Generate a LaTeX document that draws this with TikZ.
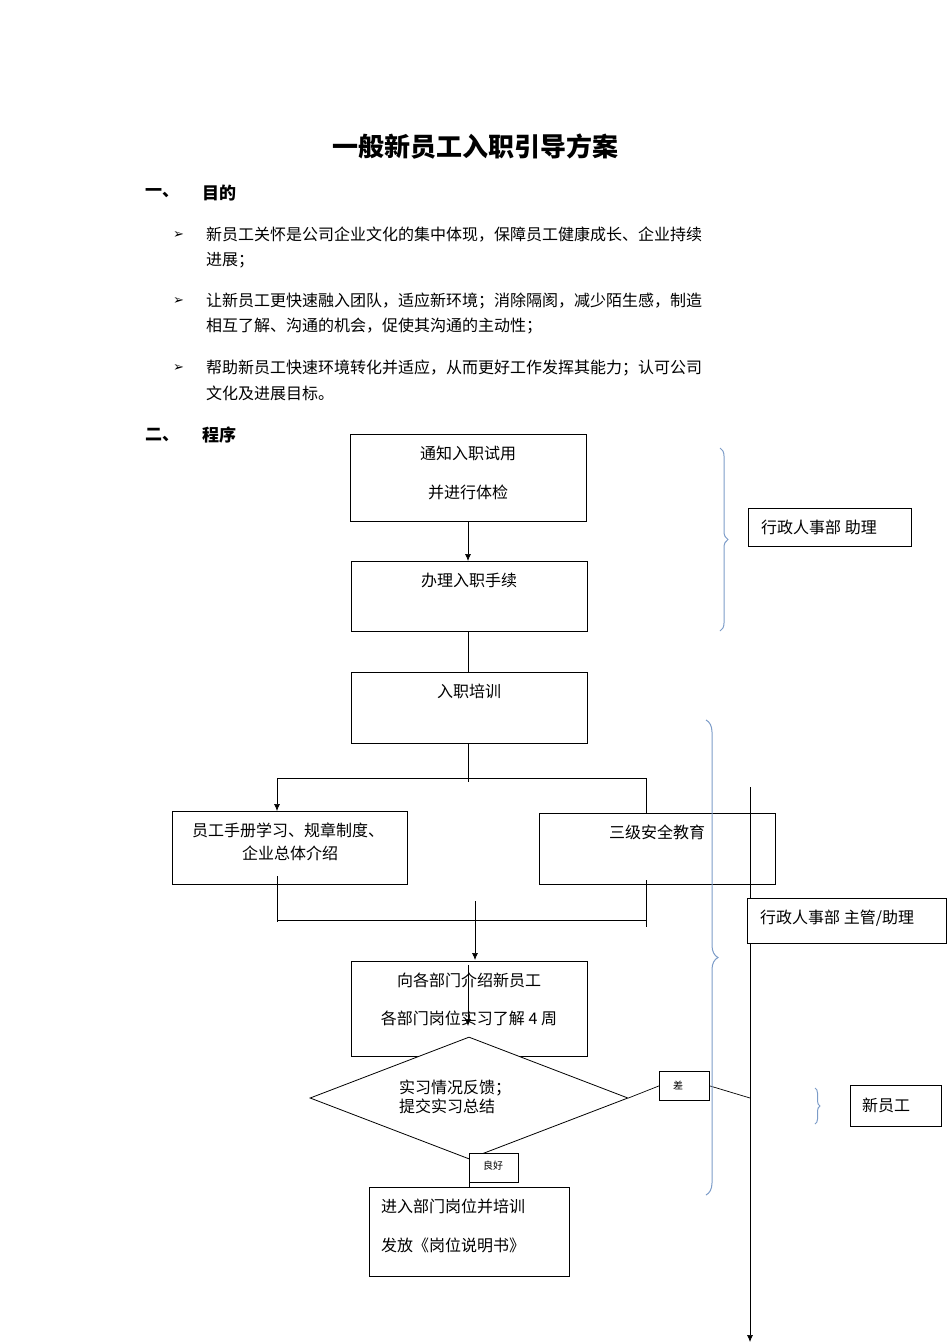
\documentclass[tikz,border=0pt]{standalone}
\usepackage{fontspec}
\setmainfont{Noto Sans CJK SC}
\newfontfamily\djv{DejaVu Sans}
\usetikzlibrary{shapes.geometric,decorations.pathreplacing,arrows.meta}
\definecolor{bblue}{HTML}{7C9CC8}
\begin{document}
\begin{tikzpicture}[x=1pt,y=-1pt,
 box/.style={draw,line width=0.8pt,inner sep=0pt},
 t/.style={font=\fontsize{16}{19}\selectfont,inner sep=0pt},
 s/.style={font=\fontsize{10}{12}\selectfont,inner sep=0pt},
 arr/.style={-{Latex[length=7pt,width=6pt]},line width=0.7pt},
 ln/.style={line width=0.7pt},
 br/.style={draw=bblue,line width=1pt,decorate,decoration={brace,amplitude=8pt}}]
\useasboundingbox (0,0) rectangle (950,1344);
\node[font=\fontsize{26}{30}\selectfont\bfseries,inner sep=0pt] (title) at (475,147) {一般新员工入职引导方案};
\node[t,font=\fontsize{17}{20}\selectfont\bfseries,anchor=west] (h1) at (145,193) {一、};
\node[t,font=\fontsize{17}{20}\selectfont\bfseries,anchor=west] (h1b) at (202,193) {目的};
\foreach \y/\a/\b [count=\i] in {235/新员工关怀是公司企业文化的集中体现，保障员工健康成长、企业持续/进展；,301/让新员工更快速融入团队，适应新环境；消除隔阂，减少陌生感，制造/相互了解、沟通的机会，促使其沟通的主动性；,368/帮助新员工快速环境转化并适应，从而更好工作发挥其能力；认可公司/文化及进展目标。}{
 \node[t,font=\djv\fontsize{13}{15}\selectfont,anchor=west] (m\i) at (173,\y) {➢};
 \node[t,anchor=west] (pa\i) at (206,\y) {\a};
 \node[t,anchor=west] (pb\i) at (206,\y+25) {\b};
}
\node[t,font=\fontsize{17}{20}\selectfont\bfseries,anchor=west] (h2) at (145,435) {二、};
\node[t,font=\fontsize{17}{20}\selectfont\bfseries,anchor=west] (h2b) at (202,435) {程序};
% boxes
\draw[box] (350,434) rectangle (586,521); \coordinate (b1b) at (468,521);
\node[t] (b1t1) at (468,453) {通知入职试用};
\node[t] (b1t2) at (468,492) {并进行体检};
\draw[box] (351,561) rectangle (587,631); \coordinate (b2t) at (468,561); \coordinate (b2b) at (468,631);
\node[t] (b2t1) at (469,580) {办理入职手续};
\draw[box] (351,672) rectangle (587,743); \coordinate (b3t) at (468,672); \coordinate (b3b) at (468,743);
\node[t] (b3t1) at (469,691) {入职培训};
\draw[arr] (b1b) -- (b2t);
\draw[ln] (b2b) -- (b3t);
\coordinate (j1) at (468,782);
\draw[ln] (b3b) -- (j1);
\coordinate (hl) at (277,778); \coordinate (hr) at (646,778);
\draw[ln] (hl) -- (hr);
\coordinate (b4t) at (277,811);
\draw[arr] (hl) -- (b4t);
\coordinate (b5t) at (646,813);
\draw[ln] (hr) -- (b5t);
\draw[box] (172,811) rectangle (407,884);
\node[t] (b4t1) at (288,830) {员工手册学习、规章制度、};
\node[t] (b4t2) at (290,853) {企业总体介绍};
\draw[box] (539,813) rectangle (775,884);
\node[t] (b5t1) at (657,832) {三级安全教育};
\coordinate (l1) at (277,876); \coordinate (l2) at (277,922);
\coordinate (r1) at (646,880); \coordinate (r2) at (646,927);
\draw[ln] (l1) -- (l2); \draw[ln] (r1) -- (r2);
\coordinate (ml) at (277,920); \coordinate (mr) at (646,920);
\draw[ln] (ml) -- (mr);
\coordinate (a1) at (475,901); \coordinate (a2) at (475,960);
\draw[arr] (a1) -- (a2);
\draw[box] (351,961) rectangle (587,1056);
\node[t] (b6t1) at (469,980) {向各部门介绍新员工};
\node[t] (b6t2) at (469,1018) {各部门岗位实习了解 4 周};
\coordinate (c1) at (468,965); \coordinate (c2) at (468,1026);
\draw[arr] (c1) -- (c2);
\node[draw,line width=0.8pt,diamond,aspect=2.54,minimum width=318pt,minimum height=122pt,inner sep=0pt,fill=white] (d) at (469,1098) {};
\node[t,align=left] (dt) at (455,1097) {实习情况反馈；\\提交实习总结};
\node[box,minimum width=50pt,minimum height=29pt,anchor=north west] (cha) at (659,1071) {};
\node[s] at (678,1085) {差};
\coordinate (vx) at (750,1098);
\draw[ln] (d.east) -- (cha.west);
\draw[ln] (cha.east) -- (vx);
\node[box,minimum width=49pt,minimum height=29pt,anchor=north west,fill=white] (lh) at (469,1153) {};
\node[s] at (493,1166) {良好};
\coordinate (b7t) at (469,1187);
\draw[ln] (d.south) -- (b7t);
\draw[box] (369,1187) rectangle (569,1276);
\node[t,anchor=west] (b7t1) at (381,1206) {进入部门岗位并培训};
\node[t,anchor=west] (b7t2) at (381,1245) {发放《岗位说明书》};
\coordinate (v1) at (750,787); \coordinate (v2) at (750,1342);
\draw[arr] (v1) -- (v2);
\node[box,minimum width=199pt,minimum height=45pt,anchor=north west,fill=white] (r2b) at (747,898) {};
\node[t,anchor=west] at (760,918) {行政人事部 主管/助理};
\node[box,minimum width=163pt,minimum height=38pt,anchor=north west] (r1b) at (748,508) {};
\node[t,anchor=west] at (761,527) {行政人事部 助理};
\node[box,minimum width=91pt,minimum height=41pt,anchor=north west] (r3b) at (850,1085) {};
\node[t,anchor=west] at (862,1105) {新员工};
\coordinate (br1a) at (720,448); \coordinate (br1b) at (720,631);
\draw[br] (br1a) -- (br1b);
\coordinate (br2a) at (706,720); \coordinate (br2b) at (706,1195);
\draw[br,decoration={brace,amplitude=12pt,aspect=0.5}] (br2a) -- (br2b);
\coordinate (br3a) at (815,1088); \coordinate (br3b) at (815,1124);
\draw[br,decoration={brace,amplitude=5pt}] (br3a) -- (br3b);
\end{tikzpicture}
\end{document}
